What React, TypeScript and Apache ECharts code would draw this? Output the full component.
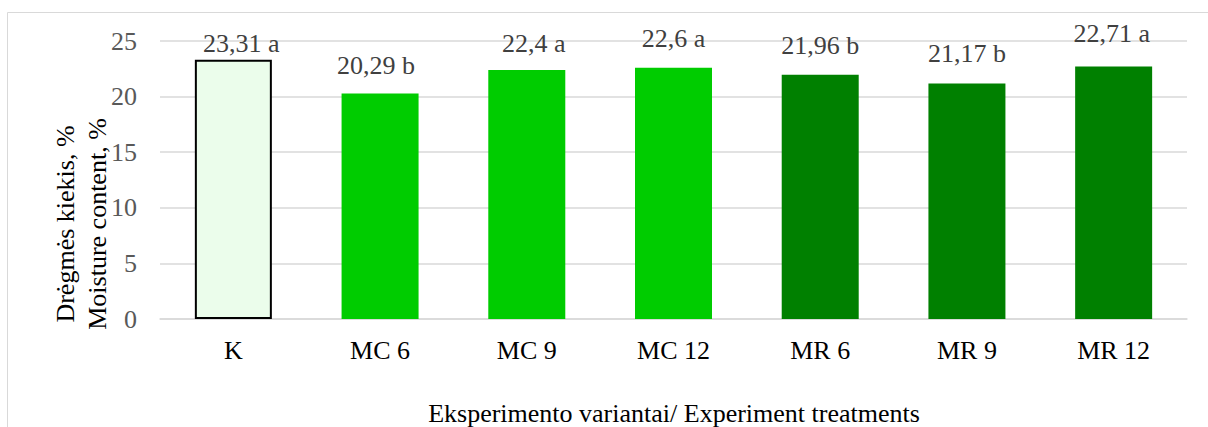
import React, { useEffect, useRef } from "react";
import * as echarts from "echarts";

const categories = ["K", "MC 6", "MC 9", "MC 12", "MR 6", "MR 9", "MR 12"];
const values = [23.31, 20.29, 22.4, 22.6, 21.96, 21.17, 22.71];
const letters = ["a", "b", "a", "a", "b", "b", "a"];
const yTicks = { min: 0, max: 25, interval: 5 };
const xTitle = "Eksperimento variantai/ Experiment treatments";
const yTitle = "Drėgmės kiekis, %\nMoisture content, %";

// styling per bar (not data)
const barFills = ["#ebfdeb", "#00cc00", "#00cc00", "#00cc00", "#008000", "#008000", "#008000"];
const labelDistance = [3, 15, 13, 16, 16, 17, 20];
const labelDx = [8, -4, 7, 0, 0, 0, -2];

const FONT = "'Liberation Serif', 'Times New Roman', serif";
const FS = 26;

export default function App() {
  const ref = useRef<HTMLDivElement>(null);
  useEffect(() => {
    if (!ref.current) return;
    const chart = echarts.init(ref.current, null, { renderer: "svg" });
    chart.setOption({
      animation: false,
      backgroundColor: "#ffffff",
      grid: { left: 160, right: 21, top: 41, bottom: 108 },
      graphic: [
        {
          type: "rect",
          shape: { x: 7.5, y: 12.5, width: 1300, height: 500 },
          style: { fill: "none", stroke: "#d9d9d9", lineWidth: 1 },
          z: -1,
        },
        {
          type: "text",
          x: 81,
          y: 224,
          rotation: Math.PI / 2,
          style: {
            text: yTitle,
            font: `${FS}px ${FONT}`,
            fill: "#000000",
            align: "center",
            verticalAlign: "middle",
            lineHeight: 32,
          },
        },
        {
          type: "text",
          x: 674,
          y: 413,
          style: {
            text: xTitle,
            font: `${FS}px ${FONT}`,
            fill: "#000000",
            align: "center",
            verticalAlign: "middle",
          },
        },
      ],
      xAxis: {
        type: "category",
        data: categories,
        axisTick: { show: false },
        axisLine: { lineStyle: { color: "#d9d9d9", width: 1.5 } },
        axisLabel: {
          color: "#000000",
          fontFamily: FONT,
          fontSize: FS,
          margin: 18,
        },
      },
      yAxis: {
        type: "value",
        min: yTicks.min,
        max: yTicks.max,
        interval: yTicks.interval,
        axisLine: { show: false },
        axisTick: { show: false },
        splitLine: { lineStyle: { color: "#d9d9d9", width: 1.5 } },
        axisLabel: {
          color: "#595959",
          fontFamily: FONT,
          fontSize: FS,
          margin: 23,
        },
      },
      series: [
        {
          type: "bar",
          barWidth: 77,
          data: values.map((v, i) => ({
            value: v,
            itemStyle: {
              color: barFills[i],
              borderColor: i === 0 ? "#000000" : barFills[i],
              borderWidth: i === 0 ? 2 : 0,
            },
            label: { distance: labelDistance[i], offset: [labelDx[i], 0] },
          })),
          label: {
            show: true,
            position: "top",
            color: "#404040",
            fontFamily: FONT,
            fontSize: FS,
            formatter: (p: any) =>
              String(values[p.dataIndex]).replace(".", ",") + " " + letters[p.dataIndex],
          },
        },
      ],
    });
    return () => chart.dispose();
  }, []);
  return (
    <div
      ref={ref}
      style={{ position: "absolute", left: 0, top: 0, width: 1208, height: 427 }}
    />
  );
}
